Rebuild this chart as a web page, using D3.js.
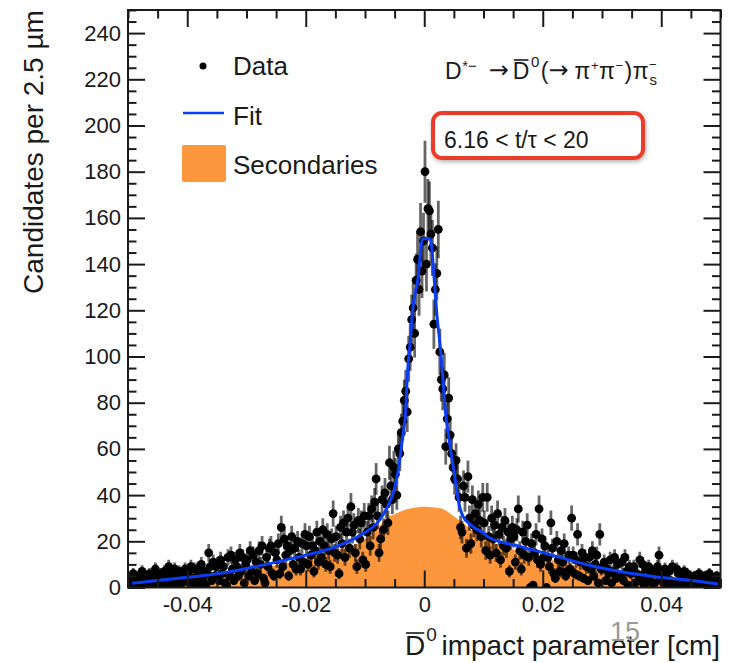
<!DOCTYPE html>
<html>
<head>
<meta charset="utf-8">
<script src="https://cdn.jsdelivr.net/npm/d3@7"></script>
<style>
  body { margin: 0; background: #fff; }
  text { font-family: "Liberation Sans", Arial, Helvetica, sans-serif; fill: #1a1a1a; white-space: pre; }
</style>
</head>
<body>
<script>
//////////////////////
// DATA             //
// histogram: 400 bins of 2.5 um from -0.05 to 0.05 cm
const binLo = -0.05;
const binW = 0.00025;
const counts = [
  3,0,1,6,2,5,1,4,2,7,1,4,0,3,6,2,5,1,8,2,
  5,1,6,2,7,2,4,9,1,6,2,8,4,1,7,5,2,6,8,3,
  7,2,9,4,8,1,8,5,2,10,3,7,1,6,15,9,3,11,5,9,
  10,3,12,6,9,2,1,13,5,14,8,3,12,9,5,15,7,13,2,10,
  12,5,16,7,14,3,11,6,16,10,18,4,2,13,9,17,18,6,5,15,
  12,19,6,26,9,21,14,18,5,16,22,10,17,8,20,13,8,19,11,23,
  18,10,22,14,18,7,16,24,11,20,13,25,18,10,23,16,9,21,32,15,
  22,14,6,26,19,28,13,24,30,17,35,24,27,15,9,29,21,28,12,31,
  10,24,31,18,34,26,37,47,31,15,21,38,25,41,36,28,54,44,38,52,
  49,40,60,58,67,72,81,85,76,99,104,116,121,110,133,142,129,154,137,150,
  180,140,164,163,153,147,114,129,136,155,102,90,86,92,61,73,82,66,58,52,
  47,55,47,39,26,24,44,39,17,48,30,19,38,27,32,25,36,29,22,39,
  28,16,39,22,14,30,21,27,15,32,23,12,26,18,29,17,24,7,21,26,
  22,11,25,34,16,8,24,14,20,27,13,0,19,1,15,23,12,34,10,21,
  13,18,0,13,9,28,17,6,4,20,12,7,16,11,19,5,7,14,8,30,
  14,6,12,23,5,11,15,4,13,9,3,13,8,16,5,10,14,2,23,8,
  9,11,3,8,6,12,2,7,13,4,10,5,5,11,3,13,7,1,9,6,
  7,9,2,6,3,12,5,10,1,8,3,9,5,2,7,2,6,9,14,4,
  6,2,8,4,0,7,3,9,1,2,8,6,3,0,5,7,1,6,3,5,
  4,1,5,1,3,6,2,3,0,5,2,3,6,2,1,4,2,5,3,2
];

// fit curve
const fitX = [-0.0493,-0.045,-0.04,-0.035,-0.03,-0.025,-0.02,-0.015,-0.0102,-0.0079,
  -0.0062,-0.0051,-0.0045,-0.0037,-0.0031,-0.00285,-0.00234,-0.002,-0.0011,-0.00027,
  0.001,0.0017,0.0021,0.0027,0.0031,0.0035,0.0042,0.0051,0.0058,0.0065,
  0.008,0.01,0.0107,0.0163,0.022,0.028,0.0332,0.0389,0.0445,0.0496];
const fitY = [1.8,3.0,4.4,5.9,8.2,11.0,14.0,17.6,23.5,28,
  35,42,49,64,78,92,107,119,133,151,
  151,133,119,104,92,78,64,49,37,31,
  26.8,23.5,22,17.7,13.7,9.5,6.8,4.7,3.2,1.5];

// secondaries component
const secX = [-0.05,-0.045,-0.04,-0.035,-0.03,-0.025,-0.02,-0.015,-0.01,-0.0075,-0.006,-0.0045,-0.0022,
  0,0.0028,0.0051,0.0065,0.008,0.01,0.015,0.02,0.025,0.03,0.035,0.04,0.045,0.05];
const secY = [1.0,2.0,3.2,4.8,7.0,9.6,12.5,16.0,21.0,27,30.5,32.4,34.3,
  35,34.3,30.6,28,25,21.5,16.5,12.8,9.8,7.2,5.0,3.4,2.0,1.0];

const xTicks = [-0.04, -0.02, 0, 0.02, 0.04];
const xTickLabels = ["-0.04", "-0.02", "0", "0.02", "0.04"];
const yTicks = [0, 20, 40, 60, 80, 100, 120, 140, 160, 180, 200, 220, 240];
const legendLabels = ["Data", "Fit", "Secondaries"];
//////////////////////

const w = 729;
const h = 663;
const INK = "#1a1a1a";
const BLUE = "#0b3df5";
const ORANGE = "#fd973d";

let svg = d3.select("body")
  .append("svg")
  .attr("width", w)
  .attr("height", h);

let xScale = d3.scaleLinear().domain([-0.05, 0.05]).range([128, 720.5]);
let yScale = d3.scaleLinear().domain([0, 250]).range([587.5, 10]);

svg.append("clipPath").attr("id", "plotclip")
  .append("rect")
  .attr("x", 128).attr("y", 10)
  .attr("width", 592.5).attr("height", 577.5);

let plot = svg.append("g").attr("clip-path", "url(#plotclip)");

// secondaries area
let area = d3.area()
  .x((d, i) => xScale(secX[i]))
  .y0(yScale(0))
  .y1(d => yScale(d))
  .curve(d3.curveMonotoneX);
plot.append("path")
  .datum(secY)
  .attr("d", area)
  .attr("fill", ORANGE);

// data points with sqrt(N) error bars
const bins = counts.map((n, i) => ({ x: binLo + (i + 0.5) * binW, n: n }));

plot.selectAll("line.err")
  .data(bins.filter(d => d.n > 0))
  .enter()
  .append("line")
  .attr("class", "err")
  .attr("x1", d => xScale(d.x))
  .attr("x2", d => xScale(d.x))
  .attr("y1", d => yScale(d.n - Math.sqrt(d.n)))
  .attr("y2", d => yScale(d.n + Math.sqrt(d.n)))
  .attr("stroke", "rgba(0,0,0,0.6)")
  .attr("stroke-width", 2.8);

plot.selectAll("circle.pt")
  .data(bins)
  .enter()
  .append("circle")
  .attr("class", "pt")
  .attr("cx", d => xScale(d.x))
  .attr("cy", d => yScale(d.n))
  .attr("r", 4.4)
  .attr("fill", "#000");

// fit line
let line = d3.line()
  .x((d, i) => xScale(fitX[i]))
  .y(d => yScale(d))
  .curve(d3.curveMonotoneX);
plot.append("path")
  .datum(fitY)
  .attr("d", line)
  .attr("fill", "none")
  .attr("stroke", BLUE)
  .attr("stroke-width", 3);

// frame + ticks on all four sides
function styleAxis(g) {
  g.select(".domain").remove();
  g.selectAll(".tick line").attr("stroke", INK).attr("stroke-width", 2);
  g.selectAll(".tick text").attr("font-size", 22).attr("fill", INK)
    .attr("font-family", "Liberation Sans, Arial, sans-serif");
}
const yMinor = d3.range(0, 251, 5).filter(v => v % 20 != 0);
const xMinor = d3.range(-50, 51, 5).map(v => v / 1000).filter(v => Math.abs(Math.round(v * 1000) % 20) != 0);

svg.append("g").attr("transform", "translate(128,0)")
  .call(d3.axisLeft(yScale).tickValues(yTicks).tickSize(-17).tickPadding(7).tickFormat(d3.format("d")))
  .call(styleAxis);
svg.append("g").attr("transform", "translate(128,0)")
  .call(d3.axisLeft(yScale).tickValues(yMinor).tickSize(-8.5).tickFormat(""))
  .call(styleAxis);
svg.append("g").attr("transform", "translate(720.5,0)")
  .call(d3.axisRight(yScale).tickValues(yTicks).tickSize(-17).tickFormat(""))
  .call(styleAxis);
svg.append("g").attr("transform", "translate(720.5,0)")
  .call(d3.axisRight(yScale).tickValues(yMinor).tickSize(-8.5).tickFormat(""))
  .call(styleAxis);
svg.append("g").attr("transform", "translate(0,587.5)")
  .call(d3.axisBottom(xScale).tickValues(xTicks).tickSize(-17).tickPadding(9)
    .tickFormat((d, i) => xTickLabels[i]))
  .call(styleAxis);
svg.append("g").attr("transform", "translate(0,587.5)")
  .call(d3.axisBottom(xScale).tickValues(xMinor).tickSize(-8.5).tickFormat(""))
  .call(styleAxis);
svg.append("g").attr("transform", "translate(0,10)")
  .call(d3.axisTop(xScale).tickValues(xTicks).tickSize(-17).tickFormat(""))
  .call(styleAxis);
svg.append("g").attr("transform", "translate(0,10)")
  .call(d3.axisTop(xScale).tickValues(xMinor).tickSize(-8.5).tickFormat(""))
  .call(styleAxis);

svg.append("rect")
  .attr("x", 128).attr("y", 10)
  .attr("width", 592.5).attr("height", 577.5)
  .attr("fill", "none")
  .attr("stroke", INK)
  .attr("stroke-width", 2);

// chains label pieces left to right; gap = space before, bar = overline height,
// stack = do not advance (next piece sits at the same x)
function chainPieces(parent, x0, y0, pieces) {
  let g = parent.append("g").attr("transform", `translate(${x0},${y0})`);
  let cx = 0;
  pieces.forEach(p => {
    cx += p.gap || 0;
    let t = g.append("text")
      .attr("x", cx)
      .attr("y", p.dy || 0)
      .attr("font-size", p.size)
      .text(p.t);
    if (p.font) t.style("font-family", p.font);
    let wd = t.node().getComputedTextLength();
    if (p.bar) {
      g.append("line")
        .attr("x1", cx + 1).attr("x2", cx + wd - 1)
        .attr("y1", -p.bar).attr("y2", -p.bar)
        .attr("stroke", INK).attr("stroke-width", 1.6);
    }
    if (!p.stack) cx += wd;
  });
  return g;
}

// axis titles
svg.append("text")
  .attr("transform", "translate(43,152) rotate(-90)")
  .attr("text-anchor", "middle")
  .attr("font-size", 28)
  .text("Candidates per 2.5 µm");

chainPieces(svg, 405, 655, [
  { t: "D", size: 28, bar: 22 },
  { t: "0", size: 19, dy: -14, gap: 1 }
]);
svg.append("text")
  .attr("x", 720).attr("y", 655)
  .attr("text-anchor", "end")
  .attr("font-size", 28)
  .text("impact parameter [cm]");

// slide page number
svg.append("text")
  .attr("x", 610).attr("y", 641)
  .attr("font-size", 27)
  .style("fill", "#9a9a9a")
  .text("15");

// legend
let leg = svg.append("g");
leg.append("circle").attr("cx", 203).attr("cy", 66).attr("r", 3.5).attr("fill", "#000");
leg.append("line").attr("x1", 183).attr("x2", 224).attr("y1", 113).attr("y2", 113)
  .attr("stroke", BLUE).attr("stroke-width", 2.6);
leg.append("rect").attr("x", 182).attr("y", 145).attr("width", 44).attr("height", 37)
  .attr("rx", 2).attr("fill", ORANGE);
leg.selectAll("text.lab")
  .data(legendLabels)
  .enter()
  .append("text")
  .attr("class", "lab")
  .attr("x", 233)
  .attr("y", (d, i) => [75, 125, 174][i])
  .attr("font-size", 26)
  .text(d => d);

// decay label
const ARROW_FONT = "DejaVu Sans, sans-serif";
chainPieces(svg, 445, 79, [
  { t: "D", size: 23 },
  { t: "*\u2212", size: 15, dy: -8, gap: 0.5 },
  { t: "\u2192", size: 24, font: ARROW_FONT, dy: -1, gap: 12 },
  { t: "D", size: 23, bar: 19, gap: 4 },
  { t: "0", size: 15, dy: -12, gap: 1.5 },
  { t: "(", size: 23, gap: 1.5 },
  { t: "\u2192", size: 24, font: ARROW_FONT, dy: -1 },
  { t: "\u03c0", size: 23, gap: 6 },
  { t: "+", size: 13, dy: -9, gap: 0.5 },
  { t: "\u03c0", size: 23, gap: 0.5 },
  { t: "\u2212", size: 13, dy: -9, gap: 0.5 },
  { t: ")", size: 23, gap: 1.5 },
  { t: "\u03c0", size: 23, gap: 0.5 },
  { t: "\u2212", size: 13, dy: -10, gap: 0.5, stack: true },
  { t: "s", size: 15, dy: 6, gap: 0.5 }
]);

// highlighted bin range box
let defs = svg.append("defs");
let f = defs.append("filter").attr("id", "shadow").attr("x", "-10%").attr("y", "-20%")
  .attr("width", "130%").attr("height", "160%");
f.append("feDropShadow").attr("dx", 1).attr("dy", 2).attr("stdDeviation", 2)
  .attr("flood-color", "#000").attr("flood-opacity", 0.3);
svg.append("rect")
  .attr("x", 433).attr("y", 113)
  .attr("width", 210).attr("height", 45)
  .attr("rx", 9)
  .attr("fill", "#fff")
  .attr("stroke", "#ec3b2b")
  .attr("stroke-width", 4)
  .attr("filter", "url(#shadow)");
svg.append("text")
  .attr("x", 444).attr("y", 148)
  .attr("font-size", 23)
  .text("6.16 < t/\u03c4 < 20");
</script>
</body>
</html>
